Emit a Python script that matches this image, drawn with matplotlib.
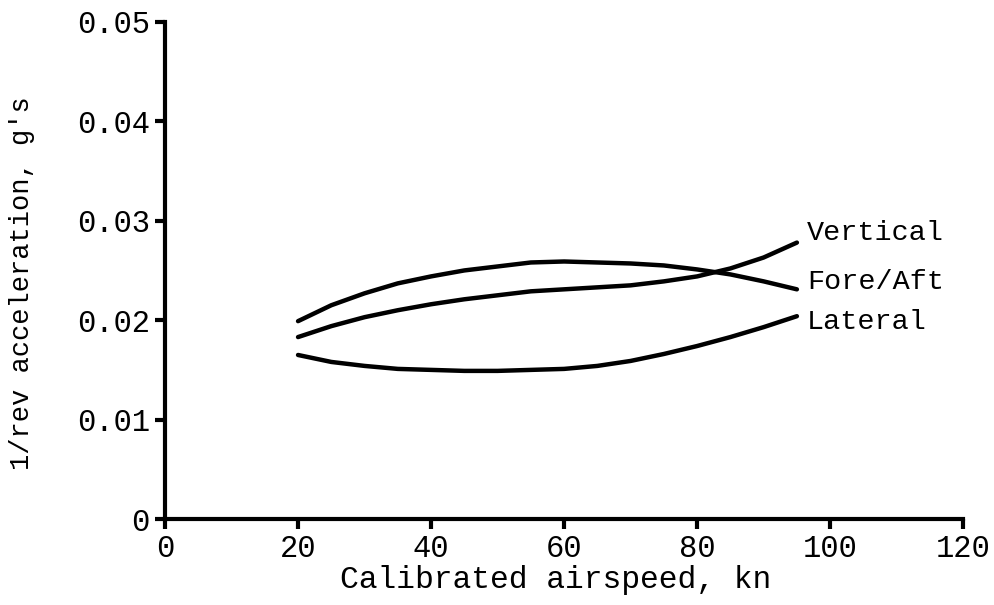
import matplotlib
matplotlib.use("Agg")
import matplotlib.pyplot as plt

# every 5 kn
airspeed = [20, 25, 30, 35, 40, 45, 50, 55, 60, 65, 70, 75, 80, 85, 90, 95]
vertical = [0.0183, 0.0194, 0.0203, 0.0210, 0.0216, 0.0221, 0.0225, 0.0229,
            0.0231, 0.0233, 0.0235, 0.0239, 0.0244, 0.0252, 0.0263, 0.0278]
fore_aft = [0.0199, 0.0215, 0.0227, 0.0237, 0.0244, 0.0250, 0.0254, 0.0258,
            0.0259, 0.0258, 0.0257, 0.0255, 0.0251, 0.0246, 0.0239, 0.0231]
lateral = [0.0165, 0.0158, 0.0154, 0.0151, 0.0150, 0.0149, 0.0149, 0.0150,
           0.0151, 0.0154, 0.0159, 0.0166, 0.0174, 0.0183, 0.0193, 0.0204]

labels = ["Vertical", "Fore/Aft", "Lateral"]
label_y = [0.0288, 0.0238, 0.0198]

x_ticks = [0, 20, 40, 60, 80, 100, 120]
y_ticks = [0, 0.01, 0.02, 0.03, 0.04, 0.05]
y_ticklabels = ["0", "0.01", "0.02", "0.03", "0.04", "0.05"]

plt.rcParams['font.family'] = ['Liberation Mono', 'DejaVu Sans Mono']

fig = plt.figure(figsize=(9.94, 6.05), dpi=100)
ax = fig.add_axes([0.166, 0.142, 0.803, 0.822])

for series in (vertical, fore_aft, lateral):
    ax.plot(airspeed, series, 'k-', lw=3.2, solid_capstyle='round')

for name, yy in zip(labels, label_y):
    ax.text(96.5, yy, name, fontsize=20.5, ha='left', va='center')

ax.set_xlim(0, 120)
ax.set_ylim(0, 0.05)
ax.set_xticks(x_ticks)
ax.set_xticklabels([str(v) for v in x_ticks], fontsize=22)
ax.set_yticks(y_ticks)
ax.set_yticklabels(y_ticklabels, fontsize=22)
ax.tick_params(direction='out', length=7, width=3, pad=4)

for side in ('top', 'right'):
    ax.spines[side].set_visible(False)
for side in ('left', 'bottom'):
    ax.spines[side].set_linewidth(3)

ax.set_xlabel("Calibrated airspeed, kn", fontsize=22.5)
ax.xaxis.label.set_va('center')
ax.xaxis.set_label_coords(0.489, -0.123)
ax.set_ylabel("1/rev acceleration, g's", fontsize=19.5)
ax.yaxis.label.set_va('center')
ax.yaxis.set_label_coords(-0.179, 0.475)

fig.savefig("out.png", dpi=100)
